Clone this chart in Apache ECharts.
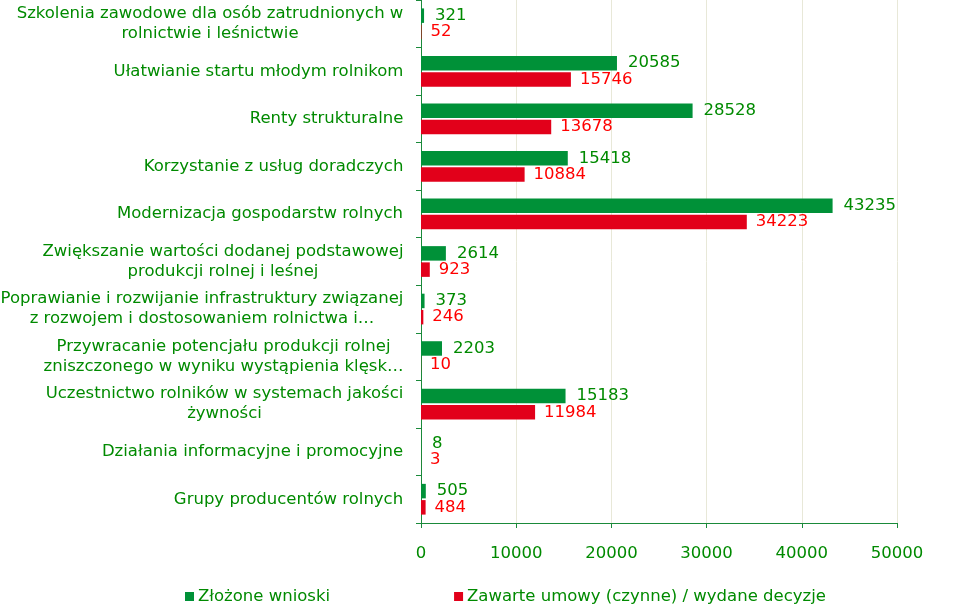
<!DOCTYPE html>
<html><head><meta charset="utf-8">
<script src="https://cdn.jsdelivr.net/npm/echarts@6/dist/echarts.min.js"></script>
<style>html,body{margin:0;padding:0;background:#fff}#c{width:953px;height:606px}</style>
</head><body><div id="c"></div>
<script>
const categories = [
  "Szkolenia zawodowe dla osób zatrudnionych w\nrolnictwie i leśnictwie",
  "Ułatwianie startu młodym rolnikom",
  "Renty strukturalne",
  "Korzystanie z usług doradczych",
  "Modernizacja gospodarstw rolnych",
  "Zwiększanie wartości dodanej podstawowej\nprodukcji rolnej i leśnej",
  "Poprawianie i rozwijanie infrastruktury związanej\nz rozwojem i dostosowaniem rolnictwa i…",
  "Przywracanie potencjału produkcji rolnej\nzniszczonego w wyniku wystąpienia klęsk…",
  "Uczestnictwo rolników w systemach jakości\nżywności",
  "Działania informacyjne i promocyjne",
  "Grupy producentów rolnych"
];
const seriesNames = ["Złożone wnioski", "Zawarte umowy (czynne) / wydane decyzje"];
const wnioski = [321, 20585, 28528, 15418, 43235, 2614, 373, 2203, 15183, 8, 505];
const umowy = [52, 15746, 13678, 10884, 34223, 923, 246, 10, 11984, 3, 484];
const xTicks = {min: 0, max: 50000, interval: 10000};

const FONT = "DejaVu Sans";
const FS = 16.5;
const GREEN_TXT = "#008a00";

// measure lines so multi-line category labels are centred within a right-aligned block
const cv = document.createElement('canvas').getContext('2d');
cv.font = FS + 'px "' + FONT + '"';
const rich = {};
categories.forEach((c, i) => {
  const w = Math.max(...c.split('\n').map(s => cv.measureText(s).width));
  rich['l' + i] = {width: Math.ceil(w) + 1, align: 'center', color: GREEN_TXT, fontSize: FS, fontFamily: FONT, lineHeight: 20};
});

const chart = echarts.init(document.getElementById('c'), null, {renderer: 'canvas'});
chart.setOption({
  animation: false,
  textStyle: {fontFamily: FONT},
  grid: {left: 421, right: 56, top: 0, bottom: 83, containLabel: false, outerBoundsMode: 'none'},
  legend: {
    top: 583, left: 180, itemWidth: 9, itemHeight: 9, itemGap: 124,
    icon: 'rect',
    textStyle: {color: GREEN_TXT, fontSize: FS, fontFamily: FONT, padding: [0, 0, 0, -1]},
    data: seriesNames
  },
  xAxis: {
    type: 'value', min: xTicks.min, max: xTicks.max, interval: xTicks.interval,
    axisLine: {show: true, lineStyle: {color: '#1a8a3a'}},
    axisTick: {show: true, length: 5, lineStyle: {color: '#1a8a3a'}},
    axisLabel: {color: GREEN_TXT, fontSize: FS, margin: 22, fontFamily: FONT, formatter: v => String(v)},
    splitLine: {show: true, lineStyle: {color: '#e8e8d8'}}
  },
  yAxis: {
    type: 'category', inverse: true, data: categories,
    axisLine: {show: true, lineStyle: {color: '#1a8a3a'}},
    axisTick: {show: true, length: 5, lineStyle: {color: '#1a8a3a'}},
    axisLabel: {
      color: GREEN_TXT, fontSize: FS, margin: 17, lineHeight: 20, align: 'right', fontFamily: FONT,
      formatter: (v, i) => v.split('\n').map(s => '{l' + i + '|' + s + '}').join('\n'),
      rich: rich
    }
  },
  series: [
    {
      name: seriesNames[0], type: 'bar', data: wnioski,
      barWidth: 14.5, barGap: '12%',
      itemStyle: {color: '#009138'},
      label: {show: true, position: 'right', distance: 11, color: GREEN_TXT, fontSize: FS, fontFamily: FONT}
    },
    {
      name: seriesNames[1], type: 'bar', data: umowy,
      barWidth: 14.5,
      itemStyle: {color: '#e2001a'},
      label: {show: true, position: 'right', distance: 9, color: '#ff0000', fontSize: FS, fontFamily: FONT}
    }
  ]
});
</script></body></html>
